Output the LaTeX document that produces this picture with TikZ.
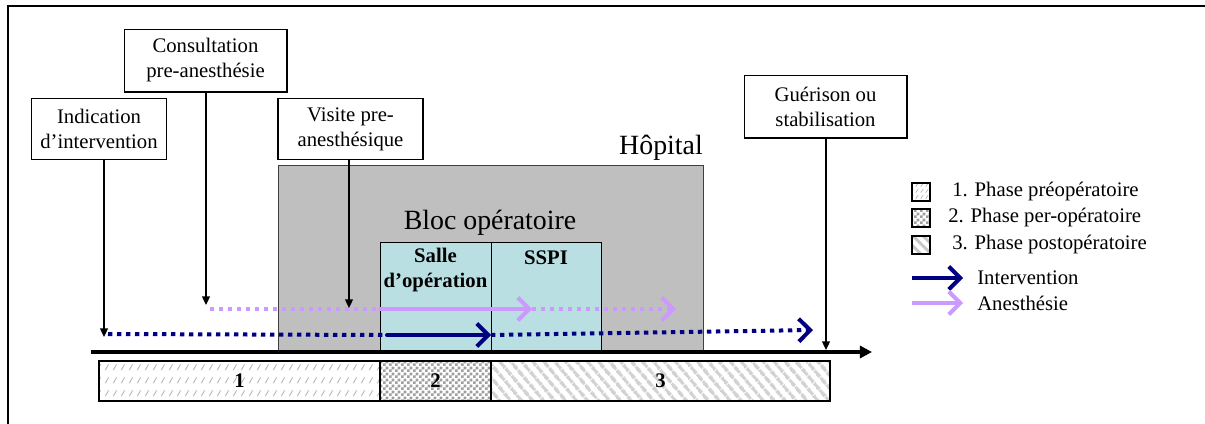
\documentclass[tikz,border=0pt]{standalone}
\usepackage{fontspec}
\setmainfont{Liberation Serif}
\usetikzlibrary{arrows.meta,patterns.meta}
\definecolor{interv}{HTML}{000080}
\definecolor{anes}{HTML}{CC99FF}
\definecolor{salle}{HTML}{B9DFE2}
\tikzdeclarepattern{name=slashes, type=uncolored, bottom left={(0pt,0pt)}, top right={(5.6pt,9pt)}, tile size={(5.6pt,9pt)},
  code={\draw[line width=0.6pt] (1pt,2pt) -- (3.6pt,6pt);}}
\tikzdeclarepattern{name=slashsmall, type=uncolored, bottom left={(0pt,0pt)}, top right={(3.6pt,4.5pt)}, tile size={(3.6pt,4.5pt)},
  code={\draw[line width=0.5pt] (0.6pt,1pt) -- (2.6pt,3.8pt);}}
\tikzdeclarepattern{name=checker, type=uncolored, bottom left={(0pt,0pt)}, top right={(4pt,4pt)}, tile size={(4pt,4pt)},
  code={\fill (0pt,0pt) rectangle (2pt,2pt) (2pt,2pt) rectangle (4pt,4pt);}}

\begin{document}
\begin{tikzpicture}[x=0.7pt, y=-0.7pt,
    every node/.style={font=\fontsize{14.5}{17.5}\selectfont},
    box/.style={draw, line width=0.8pt, align=center, inner sep=0pt},
    big/.style={font=\fontsize{19.5}{22}\selectfont},
    jalon/.style={line width=0.9pt, -{Triangle[length=6pt,width=5.5pt]}},
    hosp/.style={draw=black!75, line width=0.6pt, fill=gray!50},
    sal/.style={draw, line width=0.6pt, fill=salle},
    dotline/.style={line width=2.8pt, dash pattern=on 3pt off 3.3pt},
    fullline/.style={line width=2.8pt, line cap=round},
    barb/.style={-{Straight Barb[length=8pt,width=16pt]}},
    axe/.style={line width=2.8pt, -{Triangle[length=8.5pt,width=8.5pt]}},
    phase/.style={draw, line width=0.8pt, minimum height=28pt, inner sep=0pt, outer sep=0pt, font=\fontsize{14.5}{17.5}\selectfont\bfseries},
    legsq/.style={draw, line width=0.8pt, minimum size=12.6pt, inner sep=0pt}
  ]

    \useasboundingbox (0,0) rectangle (1205,424);
    \draw [line width=1.6pt] (8,424) -- (8,6) -- (1205,6);

    \draw [hosp] (278,165) rectangle (703,350);
    \draw [sal] (380,242) rectangle (491,350);
    \draw [sal] (491,242) rectangle (601,350);

    \node [big] (h) at (661,148) {Hôpital};
    \node [big] (i) at (490,223) {Bloc opératoire};
    \node [align=center, font=\fontsize{14.5}{17.5}\selectfont\bfseries] (j) at (435.5,270.5) {Salle\\d'opération};
    \node [font=\fontsize{14.5}{17.5}\selectfont\bfseries] (k) at (546,258) {SSPI};

    \node [box, minimum width=95pt, minimum height=43pt] (a) at (99,129) {Indication\\d'intervention};
    \node [box, minimum width=114pt, minimum height=44pt] (b) at (205.5,60.5) {Consultation\\pre-anesthésie};
    \node [box, minimum width=101.5pt, minimum height=43pt] (c) at (350.5,129) {Visite pre-\\anesthésique};
    \node [box, minimum width=114pt, minimum height=44pt] (d) at (825.5,106.5) {Guérison ou\\stabilisation};

    \coordinate (p0) at (210,309);
    \coordinate (p1) at (380,309);
    \coordinate (p2) at (532,309);
    \coordinate (p3) at (676,309);
    \coordinate (n0) at (108,334);
    \coordinate (n1) at (387,335);
    \coordinate (n2) at (491,335);
    \coordinate (n3) at (813,330);

    \draw [dotline, anes] (p0) -- (p1);
    \draw [fullline, anes, barb] (p1) -- (p2);
    \draw [dotline, anes, barb] (p2) -- (p3);
    \draw [dotline, interv] (n0) -- (n1);
    \draw [fullline, interv, barb] (n1) -- (n2);
    \draw [dotline, interv, barb] (n2) -- (n3);

    \coordinate (a1) at (104,337);
    \coordinate (b1) at (206,305);
    \coordinate (c1) at (349,308);
    \coordinate (d1) at (826,350);
    \draw [jalon] (a.south -| a1) -- (a1);
    \draw [jalon] (b.south -| b1) -- (b1);
    \draw [jalon] (c.south -| c1) -- (c1);
    \draw [jalon] (d.south -| d1) -- (d1);

    \coordinate (x0) at (91,352);
    \coordinate (x1) at (872,352);
    \draw [axe] (x0) -- (x1);

    \node [phase, minimum width=196.7pt, pattern=slashes, pattern color=gray!60] (e) at (239.5,381) {};
    \node [phase, minimum width=77.7pt, pattern=checker, pattern color=gray!75] (f) at (435.5,381) {};
    \node [phase, minimum width=237.3pt, pattern={Lines[angle=-50,distance=6.5pt,line width=2.6pt]}, pattern color=gray!35] (g) at (660.5,381) {};
    \node [font=\fontsize{14.5}{17.5}\selectfont\bfseries] at (e) {1};
    \node [font=\fontsize{14.5}{17.5}\selectfont\bfseries] at (f) {2};
    \node [font=\fontsize{14.5}{17.5}\selectfont\bfseries] at (g) {3};

    \node [legsq, pattern=slashsmall, pattern color=gray!60] (l1) at (921,192) {};
    \node [legsq, pattern=checker, pattern color=gray!75] (l2) at (921,218) {};
    \node [legsq, pattern={Lines[angle=-45,distance=5pt,line width=2pt]}, pattern color=gray!45] (l3) at (921,245) {};
    \node [anchor=west, inner sep=0pt] (m1) at (952,192) {1. Phase préopératoire};
    \node [anchor=west, inner sep=0pt] (m2) at (948,218) {2. Phase per-opératoire};
    \node [anchor=west, inner sep=0pt] (m3) at (952,245) {3. Phase postopératoire};

    \coordinate (q0) at (912,278);
    \coordinate (q1) at (963,278);
    \coordinate (r0) at (912,303);
    \coordinate (r1) at (963,303);
    \draw [fullline, line cap=butt, interv, barb] (q0) -- (q1);
    \draw [fullline, line cap=butt, anes, barb] (r0) -- (r1);
    \node [anchor=west, inner sep=0pt] (m4) at (977,278) {Intervention};
    \node [anchor=west, inner sep=0pt] (m5) at (977,303) {Anesthésie};

  \end{tikzpicture}
\end{document}
